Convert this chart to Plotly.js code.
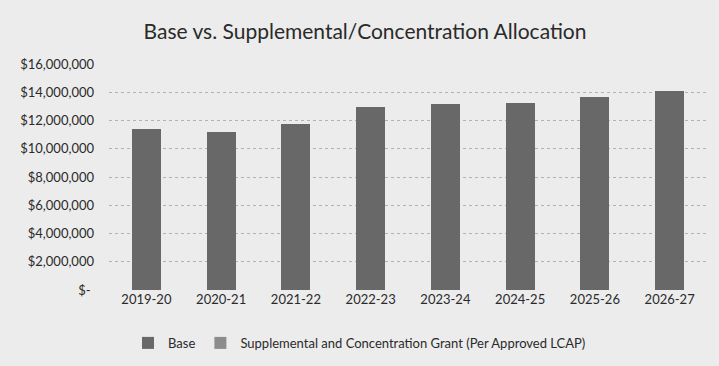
<!DOCTYPE html>
<html>
<head>
<meta charset="utf-8">
<script src="https://cdn.plot.ly/plotly-3.0.1.min.js"></script>
<style>html,body{margin:0;padding:0;background:#ebebeb;}#chart{width:719px;height:366px;}</style>
</head>
<body>
<div id="chart"></div>
<script>
const years = ["2019-20","2020-21","2021-22","2022-23","2023-24","2024-25","2025-26","2026-27"];
const baseValues = [11390000, 11200000, 11750000, 12930000, 13180000, 13250000, 13630000, 14120000];
const supplementalValues = [0, 0, 0, 0, 0, 0, 0, 0];
const yTickVals = [0, 2000000, 4000000, 6000000, 8000000, 10000000, 12000000, 14000000, 16000000];
const yTickText = ["$-\u00a0", "$2,000,000", "$4,000,000", "$6,000,000", "$8,000,000", "$10,000,000", "$12,000,000", "$14,000,000", "$16,000,000"];

const font = "Lato, 'Open Sans', sans-serif";
const textColor = "#2a2a2a";
const traces = [
  {type: "bar", name: "Base", x: years, y: baseValues, marker: {color: "#686868"}},
  {type: "bar", name: "Supplemental and Concentration Grant (Per Approved LCAP)", x: years, y: supplementalValues, marker: {color: "#8c8c8c"}}
];
const layout = {
  width: 719, height: 366,
  paper_bgcolor: "#ececec", plot_bgcolor: "#ececec",
  barmode: "stack", bargap: 0.61,
  margin: {l: 109, r: 12, t: 64, b: 76},
  font: {family: font, color: textColor, size: 13},
  title: {text: "Base vs. Supplemental/Concentration Allocation", x: 0.5077, xref: "container", y: 0.9126, yref: "container", yanchor: "middle", xanchor: "center", font: {family: font, size: 21, color: textColor}},
  xaxis: {type: "category", showgrid: false, showline: false, ticks: "", tickfont: {size: 13, color: textColor}},
  yaxis: {range: [0, 16000000], tickvals: yTickVals, ticktext: yTickText, showgrid: true, gridcolor: "#b2b2b2", griddash: "dot", gridwidth: 1, zeroline: false, showline: false, ticks: "", ticklabelstandoff: 14, tickfont: {size: 13, color: textColor}},
  showlegend: true,
  legend: {orientation: "h", xref: "container", yref: "container", x: 0.5, xanchor: "center", y: 0.063, yanchor: "middle", font: {size: 13, color: textColor}, bgcolor: "rgba(0,0,0,0)", traceorder: "normal"}
};
Plotly.newPlot("chart", traces, layout, {displayModeBar: false, staticPlot: true});
</script>
</body>
</html>
